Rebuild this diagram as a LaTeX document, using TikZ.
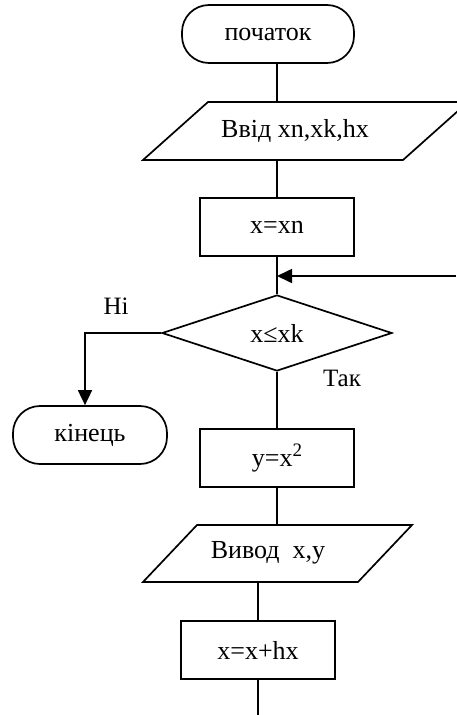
\documentclass[tikz,border=0pt]{standalone}
\usepackage{fontspec}
\setmainfont{Liberation Serif}
\usetikzlibrary{arrows.meta,shapes.geometric}

\begin{document}
\begin{tikzpicture}[x=1pt,y=-1pt, line width=1.7pt,
  every node/.style={font=\fontsize{26}{30}\selectfont},
  box/.style={draw, rectangle, minimum width=154pt, minimum height=58pt, inner sep=0pt},
  term/.style={draw, rectangle, rounded corners=27pt, minimum height=58pt, inner sep=0pt},
  decision/.style={draw, diamond, aspect=3, minimum width=230pt, minimum height=76pt, inner sep=0pt},
  lbl/.style={font=\fontsize{25}{28}\selectfont, inner sep=0pt},
  arrow/.style={-{Triangle[length=15pt,width=14pt]}}
]
\useasboundingbox (0,0) rectangle (456,715);

% start
\node[term, minimum width=172pt] (start) at (268,34) {початок};

% input
\draw (143,160) -- (208,102) -- (468,102) -- (403,160) -- cycle;
\coordinate (inTop) at (277,102);
\coordinate (inBot) at (277,160);
\node[inner sep=0pt] (inTxt) at (295,131) {Ввід xn,xk,hx};
\draw (start.south -| inTop) -- (inTop);

% x = xn
\node[box] (xn) at (277,227) {x=xn};
\draw (inBot) -- (xn.north);

% condition
\node[decision] (cond) at (277,333) {x≤xk};
\draw (xn.south) -- (cond.north);
\coordinate (loopIn) at (456,276);
\draw[arrow] (loopIn) -- (loopIn -| cond.north);

% exit branch
\coordinate (noTurn) at (85,333);
\node[term, minimum width=154pt] (end) at (90,435) {кінець};
\draw[arrow] (cond.west) -- (noTurn) -- (noTurn |- end.north);
\node[lbl] (noLbl) at (116,306) {Ні};
\node[lbl] (yesLbl) at (342,378) {Так};

% body
\node[box] (sq) at (277,458) {y=x\raisebox{0.42em}{\fontsize{19}{19}\selectfont 2}};
\draw (cond.south) -- (sq.north);

\draw (143,582) -- (197,525) -- (412,525) -- (358,582) -- cycle;
\coordinate (outTop) at (277,525);
\coordinate (outBot) at (258,582);
\node[inner sep=0pt] (outTxt) at (268,553) {Вивод\ \ x,y};
\draw (sq.south) -- (outTop);

\node[box] (inc) at (258,650) {x=x+hx};
\draw (outBot) -- (inc.north);
\coordinate (exitEnd) at (258,715);
\draw (inc.south) -- (exitEnd);
\end{tikzpicture}
\end{document}
